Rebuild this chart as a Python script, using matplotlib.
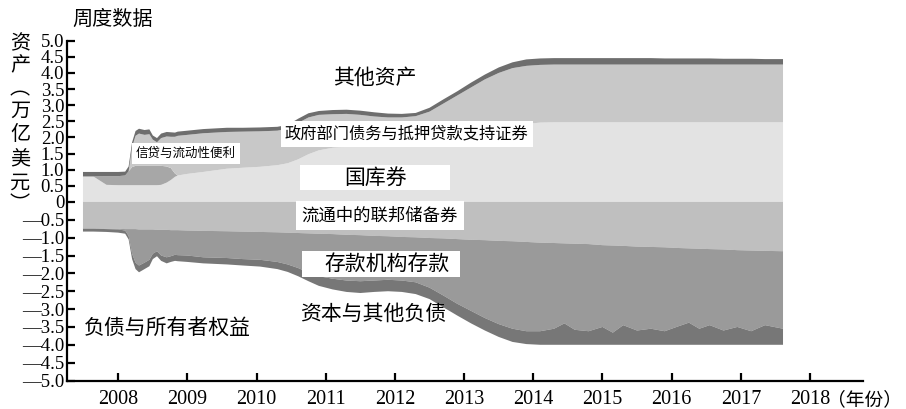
import numpy as np
import matplotlib
matplotlib.use("Agg")
import matplotlib.pyplot as plt
from matplotlib.patches import Rectangle

# ---------------- data (trillion USD, weekly) ----------------
years = [2007.49, 2007.64, 2007.83, 2008.00, 2008.10, 2008.15, 2008.20, 2008.25,
         2008.30, 2008.38, 2008.45, 2008.50, 2008.56, 2008.62, 2008.70, 2008.76,
         2008.82, 2008.86, 2009.00, 2009.23, 2009.57, 2009.80, 2010.05, 2010.30,
         2010.45, 2010.60, 2010.75, 2010.90, 2011.10, 2011.30, 2011.50, 2011.70,
         2011.90, 2012.10, 2012.30, 2012.50, 2012.70, 2012.90, 2013.10, 2013.30,
         2013.50, 2013.70, 2013.90,
         2014.10, 2014.30, 2014.45, 2014.60, 2014.80, 2015.00, 2015.15, 2015.30,
         2015.50, 2015.70, 2015.90, 2016.10, 2016.25, 2016.40, 2016.55, 2016.75,
         2016.95, 2017.15, 2017.35, 2017.61]

# assets
treasuries = [.79, .79, .53, .52, .52, .52, .52, .52, .52, .52, .52, .52, .52, .53,
              .60, .68, .78, .82, .87, .93, 1.03, 1.06, 1.09, 1.14, 1.20, 1.32, 1.48,
              1.60, 1.68, 1.71, 1.72, 1.72, 1.72, 1.72, 1.72, 1.78, 1.86, 1.95, 2.05,
              2.15, 2.25, 2.35, 2.42,
              2.46, 2.47, 2.47, 2.47, 2.47, 2.47, 2.47, 2.47, 2.47, 2.47, 2.47, 2.47,
              2.47, 2.47, 2.47, 2.47, 2.47, 2.47, 2.47, 2.47]
credit_liquidity = [0, 0, .27, .28, .30, .43, .56, .60, .60, .60, .60, .60, .60, .59,
                    .50, .37, .10, 0, 0, 0, 0, 0, 0, 0, 0, 0, 0, 0, 0, 0, 0, 0, 0, 0,
                    0, 0, 0, 0, 0, 0, 0, 0, 0,
                    0, 0, 0, 0, 0, 0, 0, 0, 0, 0, 0, 0, 0, 0, 0, 0, 0, 0, 0, 0]
agency_mbs = [0, 0, 0, 0, 0, 0, .62, .93, 1.00, .96, .98, .81, .73, .86, .93, .97,
              1.14, 1.23, 1.21, 1.20, 1.14, 1.12, 1.10, 1.07, 1.07, 1.13, 1.14, 1.10,
              1.04, 1.02, .98, .93, .90, .90, .94, 1.02, 1.19, 1.35, 1.50, 1.65, 1.75,
              1.80, 1.80,
              1.79, 1.79, 1.79, 1.79, 1.79, 1.79, 1.79, 1.79, 1.79, 1.79, 1.79, 1.79,
              1.79, 1.79, 1.79, 1.79, 1.79, 1.79, 1.79, 1.79]
other_assets = [.14, .14, .13, .13, .12, .15, .15, .15, .15, .15, .15, .13, .13, .14,
                .14, .14, .13, .13, .13, .13, .13, .12, .12, .12, .12, .13, .13, .12,
                .13, .13, .13, .13, .12, .11, .10, .12, .13, .13, .15, .15, .17, .18,
                .20,
                .20, .20, .20, .20, .20, .20, .20, .20, .20, .20, .19, .19, .19, .19,
                .19, .18, .18, .18, .17, .17]

# liabilities (magnitudes, drawn below zero)
currency = [.74, .74, .75, .75, .76, .76, .76, .76, .77, .77, .77, .77, .78, .78, .78,
            .79, .79, .79, .80, .81, .82, .83, .84, .85, .86, .87, .88, .89, .90, .92,
            .93, .95, .96, .98, .99, 1.01, 1.02, 1.04, 1.06, 1.07, 1.09, 1.10, 1.12,
            1.14, 1.15, 1.16, 1.17, 1.18, 1.21, 1.22, 1.23, 1.25, 1.26, 1.27, 1.29,
            1.30, 1.31, 1.32, 1.33, 1.35, 1.36, 1.37, 1.38]
deposits = [.01, .01, .01, .02, .04, .19, .69, .94, 1.01, .93, .85, .68, .60, .72, .77,
            .73, .69, .70, .70, .74, .75, .77, .78, .83, .89, .98, 1.10, 1.19, 1.25,
            1.28, 1.29, 1.25, 1.22, 1.22, 1.26, 1.39, 1.60, 1.81, 1.99, 2.18, 2.33,
            2.45, 2.50,
            2.48, 2.40, 2.24, 2.41, 2.44, 2.29, 2.44, 2.22, 2.35, 2.29, 2.35, 2.19,
            2.08, 2.24, 2.13, 2.27, 2.15, 2.26, 2.08, 2.17]
capital_other = [.08, .08, .08, .09, .09, .10, .15, .18, .19, .18, .18, .15, .14, .15,
                 .17, .16, .17, .17, .18, .17, .18, .18, .19, .20, .21, .23, .24, .27,
                 .30, .32, .33, .32, .32, .32, .33, .32, .33, .33, .35, .35, .36, .37,
                 .36,
                 .38, .45, .60, .42, .38, .50, .34, .55, .40, .45, .38, .52, .62, .45,
                 .55, .40, .50, .38, .55, .45]

year_ticks = list(range(2008, 2019))
y_ticks = [v / 2 for v in range(-10, 11)]

# ---------------- fonts ----------------
SERIF_CJK = ['Liberation Serif', 'DejaVu Serif', 'Noto Sans CJK SC']
plt.rcParams['font.family'] = SERIF_CJK
plt.rcParams['axes.unicode_minus'] = True

# ---------------- figure ----------------
W, H = 906, 409
fig = plt.figure(figsize=(W / 100, H / 100), dpi=100)
ax = fig.add_axes([67 / W, 1 - 380.5 / H, (862.7 - 67) / W, (380.5 - 40.7) / H])

K = 35.66 / 32.2  # the printed axis is a little stretched below zero
def fwd(v):
    v = np.asarray(v, dtype=float)
    return np.where(v < 0, v * K, v)
def inv(u):
    u = np.asarray(u, dtype=float)
    return np.where(u < 0, u / K, u)
ax.set_yscale('function', functions=(fwd, inv))

x = np.array(years)
ax.stackplot(x, treasuries, credit_liquidity, agency_mbs, other_assets,
             colors=['#e3e3e3', '#a7a7a7', '#c8c8c8', '#6e6e6e'], linewidth=0)
ax.stackplot(x, -np.array(currency), -np.array(deposits), -np.array(capital_other),
             colors=['#bfbfbf', '#9a9a9a', '#777777'], linewidth=0)

ax.set_xlim(2007.259, 2018.762)
ax.set_ylim(-5.0, 5.0)

for s in ['top', 'right']:
    ax.spines[s].set_visible(False)
for s in ['left', 'bottom']:
    ax.spines[s].set_linewidth(1.6)

def ylabel_fmt(v):
    if v == 0:
        return '0'
    s = f'{abs(v):.1f}'
    return '\u2014' + s if v < 0 else s

ax.set_xticks(year_ticks)
ax.set_xticklabels([str(y) for y in year_ticks])
ax.set_yticks(y_ticks)
ax.set_yticklabels([ylabel_fmt(v) for v in y_ticks])
ax.yaxis.set_minor_locator(matplotlib.ticker.NullLocator())
ax.tick_params(axis='both', direction='in', length=6, width=1.6, colors='black')
ax.tick_params(axis='y', pad=2, labelsize=13.5)
ax.tick_params(axis='x', pad=7, labelsize=14.5)
for lbl in ax.get_xticklabels() + ax.get_yticklabels():
    lbl.set_fontfamily(SERIF_CJK)

# year unit after the last tick label
ax.text(2018.24, -0.025, '（年份）', transform=ax.get_xaxis_transform(),
        ha='left', va='top', fontsize=13.5, family=['Noto Sans CJK SC'])

# ---------------- in-chart labels ----------------
CJK = ['Noto Sans CJK SC']
def px2x(px):
    return 2008 + (px - 118.3) / 69.2
def py2y(py):
    return (201.7 - py) / 32.2 if py <= 201.7 else -(py - 201.7) / 35.66

ax.text(px2x(375), py2y(78), '其他资产', ha='center', va='center', fontsize=15, family=CJK)
ax.text(px2x(186), py2y(153), '信贷与流动性便利', ha='center', va='center', family=CJK,
        fontsize=9, bbox=dict(facecolor='white', edgecolor='none', pad=3))
ax.text(px2x(407), py2y(134), '政府部门债务与抵押贷款支持证券', ha='center', va='center',
        family=CJK, fontsize=11.7, bbox=dict(facecolor='white', edgecolor='none', pad=3))
ax.add_patch(Rectangle((px2x(300), py2y(190)), px2x(450) - px2x(300),
                       py2y(165) - py2y(190), facecolor='white', edgecolor='none'))
ax.text(px2x(376), py2y(178), '国库券', ha='center', va='center', fontsize=15, family=CJK)
ax.text(px2x(380), py2y(215), '流通中的联邦储备券', ha='center', va='center', family=CJK,
        fontsize=12.5, bbox=dict(facecolor='white', edgecolor='none', pad=4))
ax.add_patch(Rectangle((px2x(302), py2y(277)), px2x(460) - px2x(302),
                       py2y(251) - py2y(277), facecolor='white', edgecolor='none'))
ax.text(px2x(387), py2y(264), '存款机构存款', ha='center', va='center', fontsize=15,
        family=CJK)
ax.text(px2x(373), py2y(313), '资本与其他负债', ha='center', va='center', fontsize=15,
        family=CJK)
ax.text(px2x(167), py2y(327), '负债与所有者权益', ha='center', va='center', fontsize=15,
        family=CJK)

# ---------------- outer labels ----------------
fig.text(72 / W, 1 - 19 / H, '周度数据', ha='left', va='center', fontsize=14.5, family=CJK)
ylab = ['资', '产', '︵', '万', '亿', '美', '元', '︶']
ypos = [44, 66, 89, 111, 135, 159, 183, 205]
for ch, yp in zip(ylab, ypos):
    fig.text(20 / W, 1 - yp / H, ch, ha='center', va='center', fontsize=14.5, family=CJK)

fig.savefig('out.png', dpi=100)
